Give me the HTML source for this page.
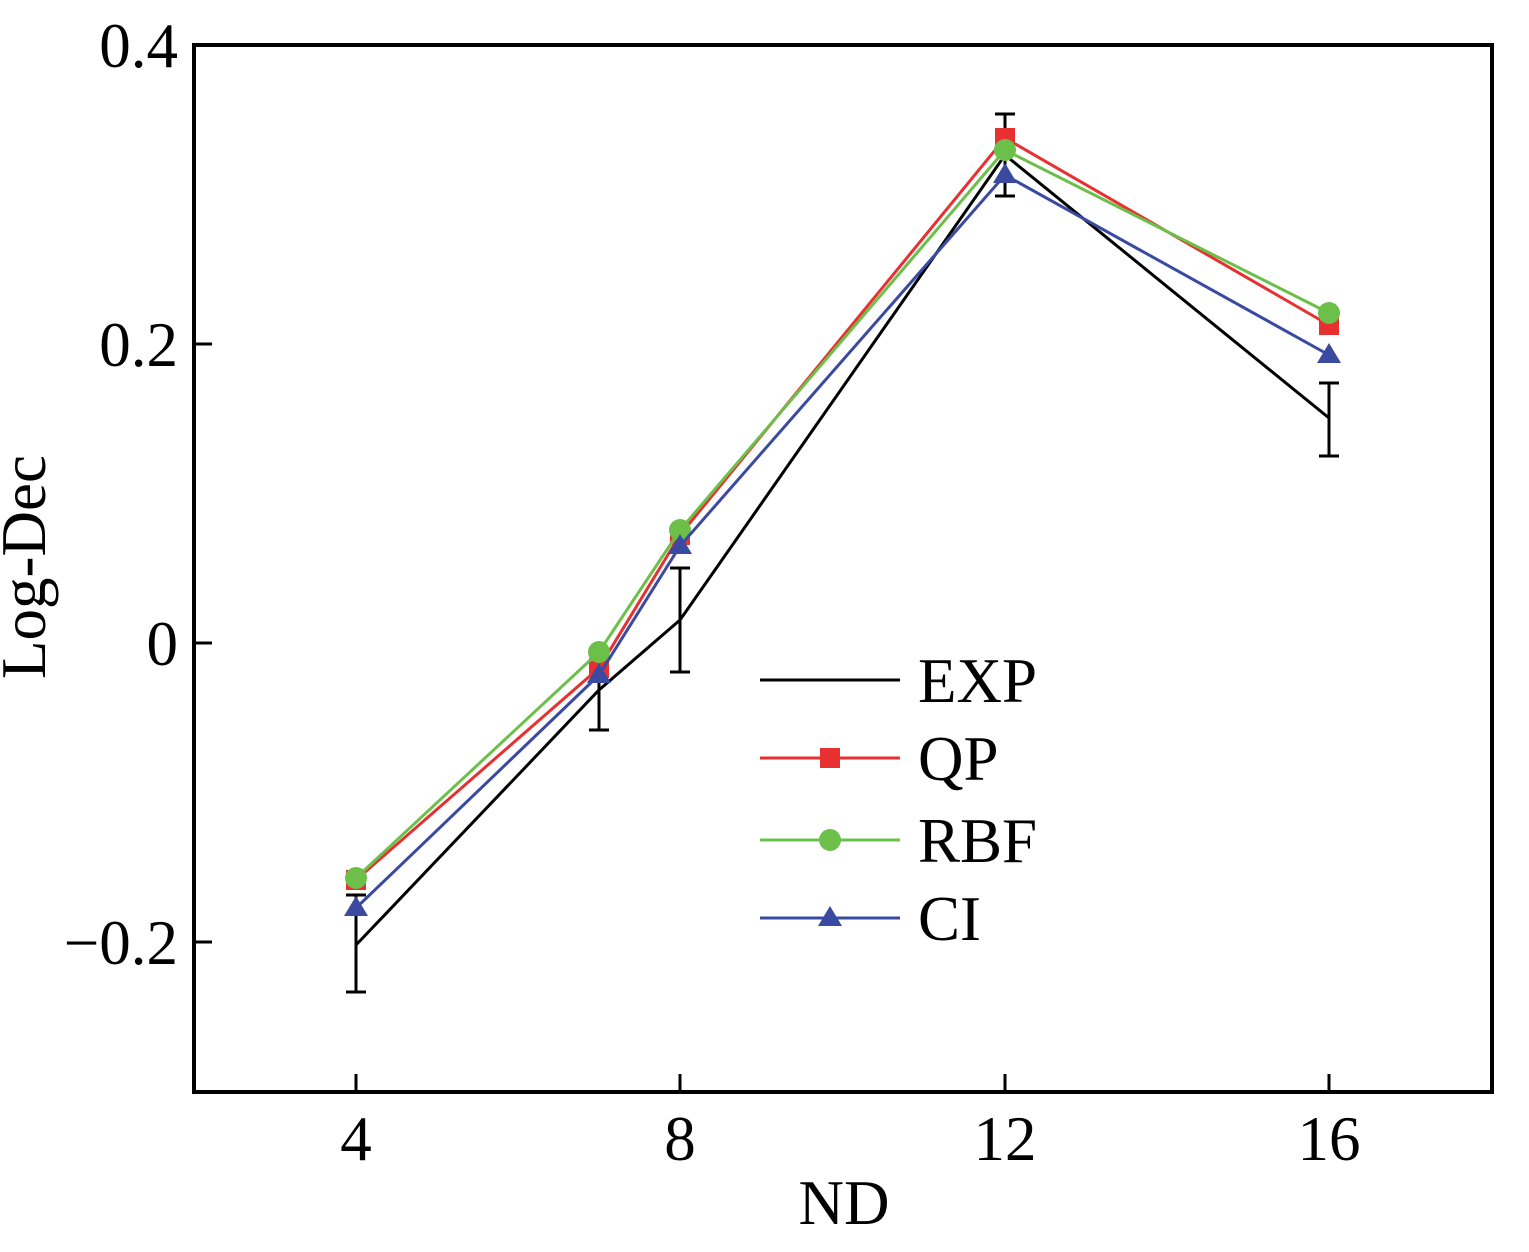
<!DOCTYPE html>
<html><head><meta charset="utf-8"><style>html,body{margin:0;padding:0;background:#fff}</style></head>
<body>
<svg width="1529" height="1247" xmlns="http://www.w3.org/2000/svg" font-family="Liberation Serif, serif">
<rect x="194" y="45" width="1298" height="1047" fill="none" stroke="#000" stroke-width="4"/>
<g stroke="#000" stroke-width="3">
<line x1="194" y1="344" x2="212" y2="344"/><line x1="194" y1="643" x2="212" y2="643"/><line x1="194" y1="942" x2="212" y2="942"/>
<line x1="356" y1="1092" x2="356" y2="1074"/><line x1="680" y1="1092" x2="680" y2="1074"/><line x1="1005" y1="1092" x2="1005" y2="1074"/><line x1="1329" y1="1092" x2="1329" y2="1074"/>
</g>
<g font-size="63" fill="#000" text-anchor="end">
<text x="178" y="67">0.4</text><text x="178" y="366">0.2</text><text x="178" y="665">0</text><text x="178" y="964">−0.2</text>
</g>
<g font-size="63" fill="#000" text-anchor="middle">
<text x="356" y="1160">4</text><text x="680" y="1160">8</text><text x="1005" y="1160">12</text><text x="1329" y="1160">16</text>
<text x="844" y="1224">ND</text>
<text transform="translate(45,567) rotate(-90)">Log-Dec</text>
</g>
<g stroke="#000" stroke-width="3" fill="none">
<polyline points="356,945 599,690 680,620 1005,155 1329,418"/>
<path d="M356,895V992M346,895h20M346,992h20 M599,650V730M589,730h20 M680,568V672M670,568h20M670,672h20 M1005,114V196M995,114h20M995,196h20 M1329,383V456M1319,383h20M1319,456h20"/>
</g>
<polyline points="356,880 599,668 680,535 1005,138 1329,325" fill="none" stroke="#e83030" stroke-width="3"/>
<g fill="#e83030"><rect x="346" y="870" width="20" height="20"/><rect x="589" y="658" width="20" height="20"/><rect x="670" y="525" width="20" height="20"/><rect x="995" y="128" width="20" height="20"/><rect x="1319" y="315" width="20" height="20"/></g>
<polyline points="356,878 599,652 680,530 1005,150 1329,313" fill="none" stroke="#6cc04a" stroke-width="3"/>
<g fill="#6cc04a"><circle cx="356" cy="878" r="11"/><circle cx="599" cy="652" r="11"/><circle cx="680" cy="530" r="11"/><circle cx="1005" cy="150" r="11"/><circle cx="1329" cy="313" r="11"/></g>
<polyline points="356,908 599,675 680,546 1005,175 1329,355" fill="none" stroke="#3a4aa0" stroke-width="3"/>
<g fill="#3a4aa0"><path d="M356,896l12,20h-24z"/><path d="M599,663l12,20h-24z"/><path d="M680,534l12,20h-24z"/><path d="M1005,163l12,20h-24z"/><path d="M1329,343l12,20h-24z"/></g>
<line x1="760" y1="680" x2="900" y2="680" stroke="#000" stroke-width="3"/>
<line x1="760" y1="758" x2="900" y2="758" stroke="#e83030" stroke-width="3"/><rect x="820" y="748" width="20" height="20" fill="#e83030"/>
<line x1="760" y1="840" x2="900" y2="840" stroke="#6cc04a" stroke-width="3"/><circle cx="830" cy="840" r="11" fill="#6cc04a"/>
<line x1="760" y1="918" x2="900" y2="918" stroke="#3a4aa0" stroke-width="3"/><path d="M830,906l12,20h-24z" fill="#3a4aa0"/>
<g font-size="63" fill="#000"><text x="918" y="702">EXP</text><text x="918" y="780">QP</text><text x="918" y="862">RBF</text><text x="918" y="940">CI</text></g>
</svg>
</body></html>
